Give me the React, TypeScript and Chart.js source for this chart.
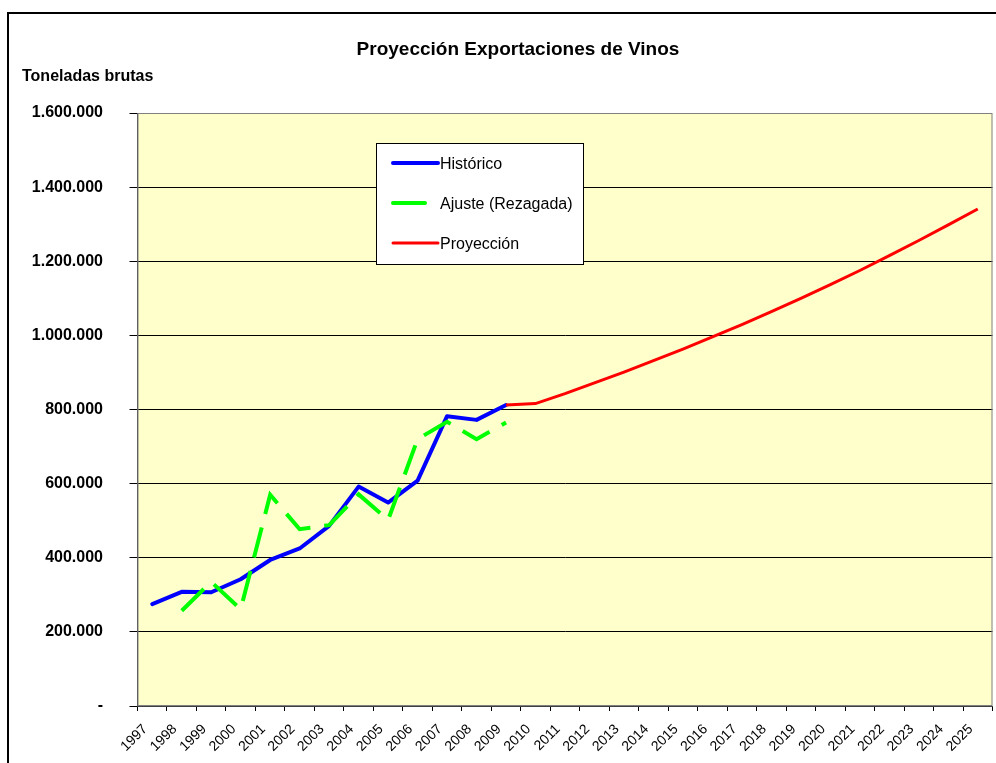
import React, { useEffect, useRef } from "react";
import { Chart, registerables } from "chart.js";

Chart.register(...registerables);

const years: string[] = [
  "1997","1998","1999","2000","2001","2002","2003","2004","2005","2006",
  "2007","2008","2009","2010","2011","2012","2013","2014","2015","2016",
  "2017","2018","2019","2020","2021","2022","2023","2024","2025",
];

const historico: (number | null)[] = [
  275000, 308000, 307000, 342000, 394000, 425000, 486000, 592000, 549000, 608000,
  782000, 772000, 812000,
  null, null, null, null, null, null, null, null, null, null, null, null, null, null, null, null,
];

const ajuste: (number | null)[] = [
  null, 257000, 335000, 261000, 570000, 477000, 488000, 571000, 502000, 720000,
  767000, 720000, 765000,
  null, null, null, null, null, null, null, null, null, null, null, null, null, null, null, null,
];

const proyeccion: (number | null)[] = [
  null, null, null, null, null, null, null, null, null, null, null, null,
  812000, 816000, 843000, 872000, 901000, 932000, 963000, 996000, 1029000, 1064000,
  1100000, 1137000, 1175000, 1215000, 1256000, 1298000, 1341000,
];

const yTicks: number[] = [0, 200000, 400000, 600000, 800000, 1000000, 1200000, 1400000, 1600000];

const seriesNames: string[] = ["Histórico", "Ajuste (Rezagada)", "Proyección"];
const chartTitle = "Proyección Exportaciones de Vinos";
const yAxisTitle = "Toneladas brutas";

const FONT = 'Arial, "Liberation Sans", sans-serif';

function fmt(v: number): string {
  if (v === 0) return "-";
  return String(Math.round(v)).replace(/\B(?=(\d{3})+(?!\d))/g, ".");
}

const decorPlugin = {
  id: "decor",
  beforeDraw(chart: any) {
    const { ctx, chartArea } = chart;
    ctx.save();
    ctx.fillStyle = "#ffffff";
    ctx.fillRect(0, 0, chart.width, chart.height);
    ctx.fillStyle = "#FFFFCC";
    ctx.fillRect(chartArea.left, chartArea.top, chartArea.right - chartArea.left, chartArea.bottom - chartArea.top);
    ctx.restore();
  },
  beforeDatasetsDraw(chart: any) {
    const { ctx, chartArea } = chart;
    ctx.save();
    ctx.strokeStyle = "#808080";
    ctx.lineWidth = 1;
    ctx.strokeRect(chartArea.left + 0.5, chartArea.top + 0.5, chartArea.right - chartArea.left - 1, chartArea.bottom - chartArea.top - 1);
    ctx.restore();
  },
  afterDraw(chart: any) {
    const { ctx } = chart;
    ctx.save();
    // outer border
    ctx.strokeStyle = "#000";
    ctx.lineWidth = 2;
    ctx.strokeRect(8, 13, 1100, 900);
    // title
    ctx.fillStyle = "#000";
    ctx.font = `bold 19px ${FONT}`;
    ctx.textAlign = "center";
    ctx.textBaseline = "middle";
    ctx.fillText(chartTitle, 518, 50);
    // y axis title
    ctx.font = `bold 16px ${FONT}`;
    ctx.textAlign = "left";
    ctx.fillText(yAxisTitle, 22, 77);
    // legend
    const lx = 376.5, ly = 143.5, lw = 207, lh = 121;
    ctx.fillStyle = "#fff";
    ctx.fillRect(lx, ly, lw, lh);
    ctx.strokeStyle = "#000";
    ctx.lineWidth = 1;
    ctx.strokeRect(lx, ly, lw, lh);
    const rows = [
      { y: 163, color: "#0000FF", width: 4, x2: 438 },
      { y: 203, color: "#00FF00", width: 4, x2: 425 },
      { y: 243, color: "#FF0000", width: 3, x2: 438 },
    ];
    rows.forEach((r, i) => {
      ctx.strokeStyle = r.color;
      ctx.lineWidth = r.width;
      ctx.lineCap = "round";
      ctx.beginPath();
      ctx.moveTo(393, r.y);
      ctx.lineTo(r.x2, r.y);
      ctx.stroke();
      ctx.fillStyle = "#000";
      ctx.font = `16px ${FONT}`;
      ctx.textAlign = "left";
      ctx.textBaseline = "middle";
      ctx.fillText(seriesNames[i], 440, r.y + 2);
    });
    ctx.restore();
  },
};

export default function App() {
  const ref = useRef<HTMLCanvasElement | null>(null);
  useEffect(() => {
    if (!ref.current) return;
    const chart = new Chart(ref.current, {
      type: "line",
      data: {
        labels: years,
        datasets: [
          {
            label: seriesNames[0],
            data: historico,
            borderColor: "#0000FF",
            borderWidth: 4,
            pointRadius: 0,
            tension: 0,
            order: 3,
            borderJoinStyle: "round",
            borderCapStyle: "round",
          },
          {
            label: seriesNames[1],
            data: ajuste,
            borderColor: "#00FF00",
            borderWidth: 4,
            borderDash: [31, 14],
            pointRadius: 0,
            tension: 0,
            order: 2,
          },
          {
            label: seriesNames[2],
            data: proyeccion,
            borderColor: "#FF0000",
            borderWidth: 3,
            pointRadius: 0,
            tension: 0,
            order: 1,
          },
        ],
      },
      options: {
        animation: false,
        responsive: false,
        events: [],
        layout: { padding: { left: 0, right: 3.5, top: 113, bottom: 0 } },
        plugins: {
          legend: { display: false },
          title: { display: false },
          tooltip: { enabled: false },
        },
        scales: {
          x: {
            offset: true,
            grid: {
              offset: true,
              drawOnChartArea: false,
              drawTicks: true,
              tickLength: 5,
              tickColor: "#000",
            },
            border: { display: true, color: "#404040", width: 1 },
            ticks: {
              autoSkip: false,
              maxRotation: 45,
              minRotation: 45,
              color: "#000",
              font: { family: FONT, size: 14 },
              padding: 10,
              labelOffset: -7,
            },
            afterFit(scale: any) {
              scale.height = 57;
              scale.paddingLeft = 0;
              scale.paddingRight = 0;
              scale.paddingTop = 0;
              scale.paddingBottom = 0;
            },
          },
          y: {
            min: 0,
            max: 1600000,
            afterBuildTicks(scale: any) {
              scale.ticks = yTicks.map((v) => ({ value: v }));
            },
            grid: {
              color: (c: any) =>
                c.tick && (c.tick.value === 0 || c.tick.value === 1600000) ? "rgba(0,0,0,0)" : "#000",
              lineWidth: 1,
              tickLength: 8,
              tickColor: "#000",
            },
            border: { display: true, color: "#404040", width: 1 },
            ticks: {
              color: "#000",
              font: { family: FONT, size: 16, weight: "bold" },
              padding: 26.5,
              callback: (v: any) => fmt(Number(v)),
            },
            afterFit(scale: any) {
              scale.width = 137.5;
              scale.paddingTop = 0;
              scale.paddingBottom = 0;
            },
          },
        },
      },
      plugins: [decorPlugin],
    });
    return () => chart.destroy();
  }, []);
  return (
    <div style={{ position: "absolute", left: 0, top: 0, width: 996, height: 763, background: "#fff" }}>
      <canvas ref={ref} width={996} height={763} style={{ display: "block" }} />
    </div>
  );
}
